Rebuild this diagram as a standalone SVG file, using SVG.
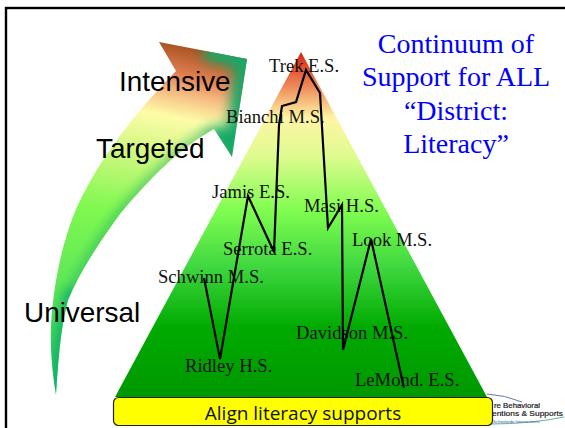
<svg xmlns="http://www.w3.org/2000/svg" width="565" height="428" viewBox="0 0 565 428">
<style>
.school{font-family:"Liberation Serif",serif;font-size:18.6px;fill:#111}
.tier{font-family:"Liberation Sans",sans-serif;font-size:27.9px;fill:#000}
.title{font-family:"Liberation Serif",serif;font-size:28px;fill:#0000ff;text-anchor:middle}
.logo{font-family:"Liberation Sans",sans-serif;font-size:7.4px;fill:#222;stroke:#222;stroke-width:0.2}
</style>
<defs>
<linearGradient id="pyr" gradientUnits="userSpaceOnUse" x1="0" y1="52" x2="0" y2="397">
<stop offset="0" stop-color="#d8200c"/>
<stop offset="0.1" stop-color="#ee8a5a"/>
<stop offset="0.19" stop-color="#fff4a4"/>
<stop offset="0.3" stop-color="#e0fb90"/>
<stop offset="0.46" stop-color="#80fd50"/>
<stop offset="0.62" stop-color="#40d840"/>
<stop offset="0.8" stop-color="#00aa00"/>
<stop offset="1" stop-color="#009800"/>
</linearGradient>
<linearGradient id="arr" gradientUnits="userSpaceOnUse" x1="185" y1="42" x2="115" y2="395">
<stop offset="0" stop-color="#a04c1c"/>
<stop offset="0.09" stop-color="#e08050"/>
<stop offset="0.14" stop-color="#f5b880"/>
<stop offset="0.21" stop-color="#fdfca8"/>
<stop offset="0.33" stop-color="#d0f880"/>
<stop offset="0.5" stop-color="#80f850"/>
<stop offset="0.72" stop-color="#60e858"/>
<stop offset="1" stop-color="#30c860"/>
</linearGradient>
<clipPath id="arrClip"><path d="M159 42L247 59L232 157L214 129C180 148 150 178 120 214C98 244 80 272 68 300C60 330 58 365 56 395C52 370 50 345 51 325C53 290 60 250 74 214C95 165 130 118 176 71Z"/></clipPath>
<filter id="soft" x="-30%" y="-30%" width="160%" height="160%"><feGaussianBlur stdDeviation="6"/></filter>
</defs>

<rect x="6" y="8" width="570" height="430" fill="#fff" stroke="#000" stroke-width="2.400"/>

<g id="arrow">
<g clip-path="url(#arrClip)">
<rect x="40" y="30" width="220" height="380" fill="url(#arr)"/>
<path d="M205 50L246 60L234 157L214 129" fill="none" stroke="#18a868" stroke-width="20" filter="url(#soft)"/>
<path d="M214 129C180 148 150 178 120 214C98 244 80 272 68 300" fill="none" stroke="#20b060" stroke-width="6" filter="url(#soft)"/>
<path d="M72 290C62 320 58 360 56 395" fill="none" stroke="#00a868" stroke-width="10" filter="url(#soft)"/>
</g>
</g>

<g id="pyramid"><path d="M301 52L487 397H115Z" fill="url(#pyr)"/></g>

<g id="logo">
<path d="M487 394Q505 395 522 402" fill="none" stroke="#5a7fa8" stroke-width="1"/>
<path d="M490 424Q530 424 564 417" fill="none" stroke="#60b0a0" stroke-width="1"/>
<text class="logo" x="494" y="408" textLength="46" lengthAdjust="spacingAndGlyphs">re Behavioral</text>
<text class="logo" x="492" y="416" textLength="71" lengthAdjust="spacingAndGlyphs">entions &amp; Supports</text>
<text x="493" y="422.500" font-family="Liberation Sans, sans-serif" font-size="4.200" fill="#4a5fa8">Schoolwide Interventions</text>
</g>

<g id="box-align">
<rect x="113.500" y="397.500" width="379" height="28" rx="5" fill="#ffff00" stroke="#222" stroke-width="1.200"/>
<text x="303" y="420" text-anchor="middle" font-family="Open Sans, sans-serif" font-size="19" fill="#111">Align literacy supports</text>
</g>

<g id="title">
<text class="title" x="456" y="53">Continuum of</text>
<text class="title" x="456" y="86">Support for ALL</text>
<text class="title" x="456" y="120">“District:</text>
<text class="title" x="456" y="153">Literacy”</text>
</g>

<g id="tier-intensive"><text class="tier" x="119" y="91">Intensive</text></g>
<g id="tier-targeted"><text class="tier" x="96" y="158">Targeted</text></g>
<g id="tier-universal"><text class="tier" x="24" y="322">Universal</text></g>

<g id="school-trek"><text class="school" x="269" y="72">Trek E.S.</text></g>
<g id="school-bianchi"><text class="school" x="226" y="123">Bianchi M.S.</text></g>
<g id="school-jamis"><text class="school" x="212" y="198">Jamis E.S.</text></g>
<g id="school-masi"><text class="school" x="304" y="212">Masi H.S.</text></g>
<g id="school-serrota"><text class="school" x="223" y="255">Serrota E.S.</text></g>
<g id="school-look"><text class="school" x="352" y="246">Look M.S.</text></g>
<g id="school-schwinn"><text class="school" x="158" y="283">Schwinn M.S.</text></g>
<g id="school-davidson"><text class="school" x="296" y="339">Davidson M.S.</text></g>
<g id="school-ridley"><text class="school" x="185" y="372">Ridley H.S.</text></g>
<g id="school-lemond"><text class="school" x="355" y="386">LeMond. E.S.</text></g>

<g id="connectors">
<polyline points="204,278 220,359 248,196 274,252 279,125 282,106 296,102 306,70 320,93 328,228 342,205 343,350 371,239 404,388" fill="none" stroke="#000" stroke-width="2.200" stroke-linejoin="miter"/>
</g>
</svg>
